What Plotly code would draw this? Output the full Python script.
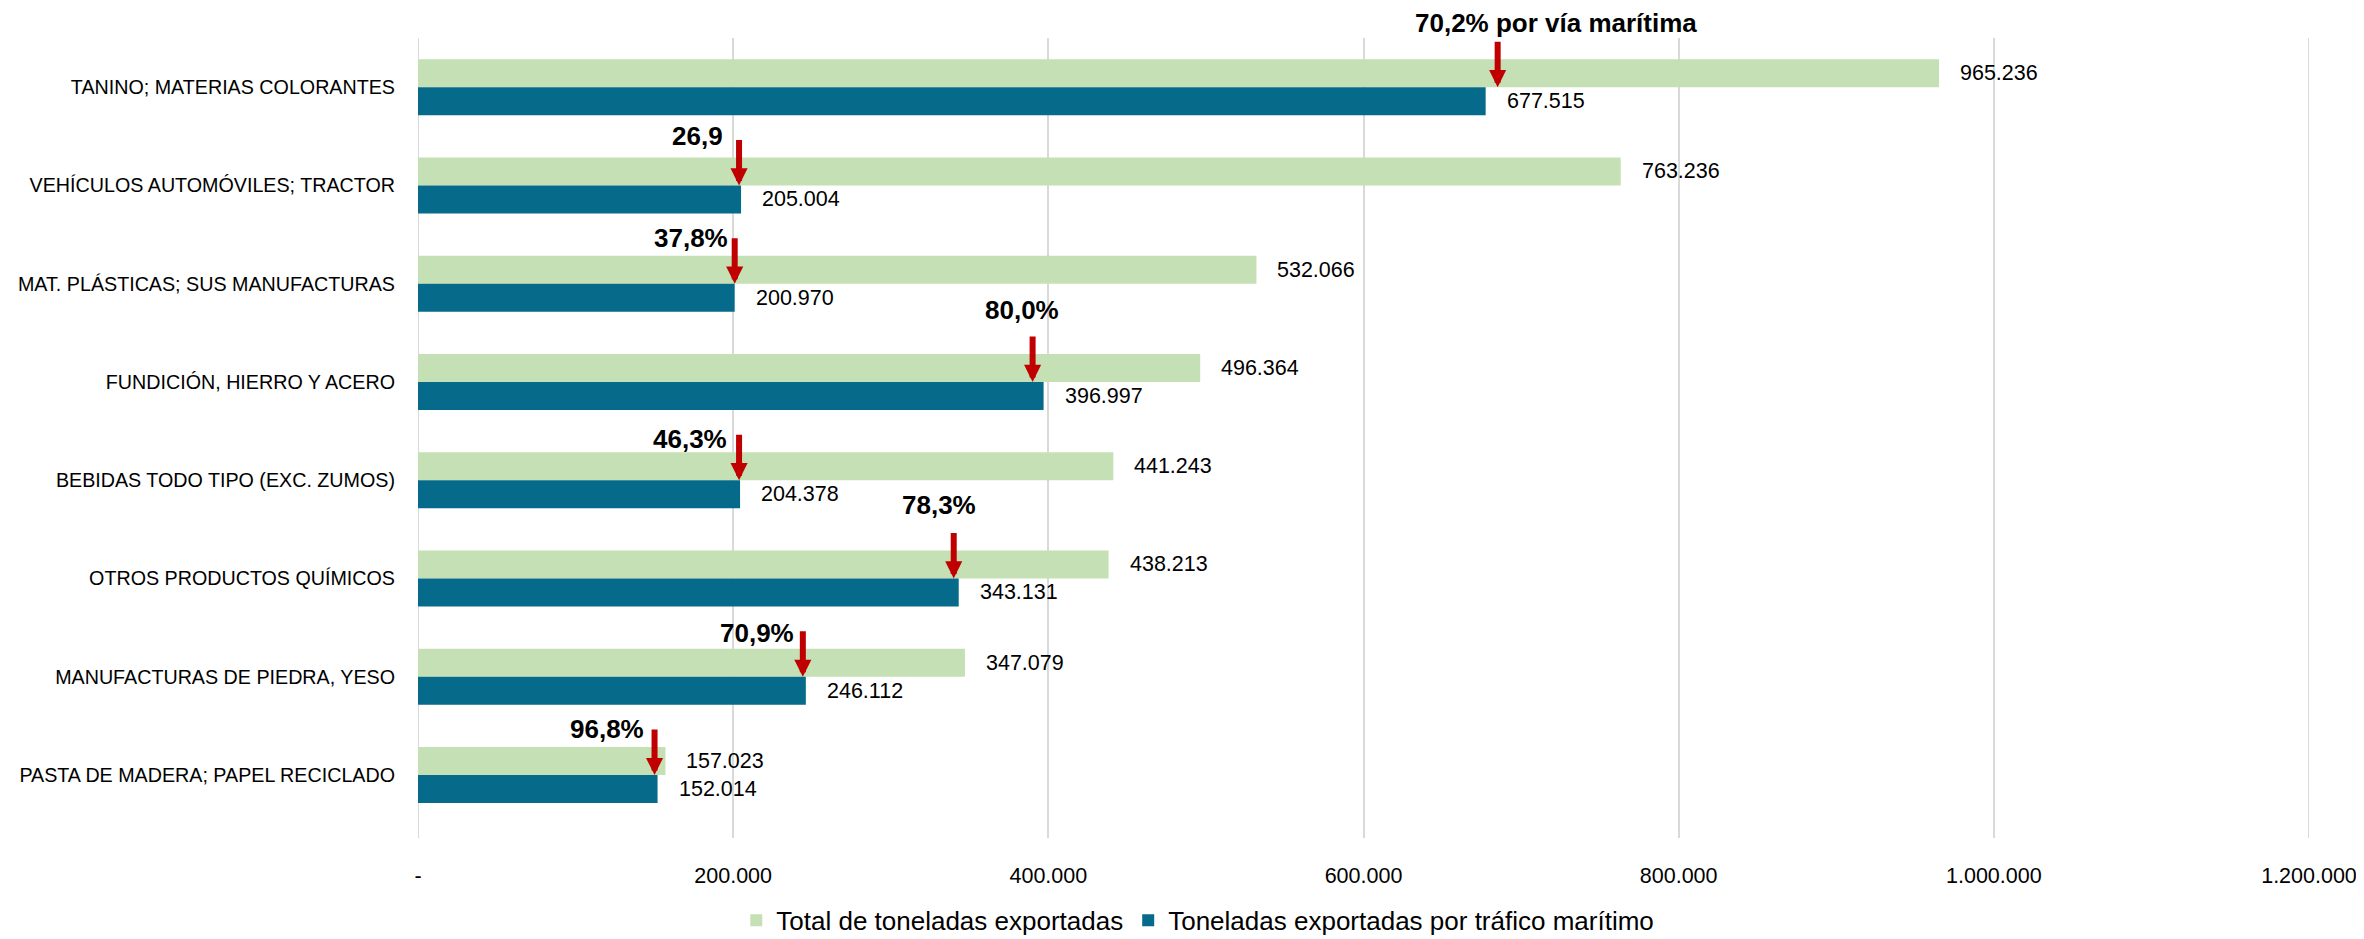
import plotly.graph_objects as go

categories = [
    "TANINO; MATERIAS COLORANTES",
    "VEHÍCULOS AUTOMÓVILES; TRACTOR",
    "MAT. PLÁSTICAS; SUS MANUFACTURAS",
    "FUNDICIÓN, HIERRO Y ACERO",
    "BEBIDAS TODO TIPO (EXC. ZUMOS)",
    "OTROS PRODUCTOS QUÍMICOS",
    "MANUFACTURAS DE PIEDRA, YESO",
    "PASTA DE MADERA; PAPEL RECICLADO",
]
total_tons = [965236, 763236, 532066, 496364, 441243, 438213, 347079, 157023]
maritime_tons = [677515, 205004, 200970, 396997, 204378, 343131, 246112, 152014]
share_labels = ["70,2% por vía marítima", "26,9", "37,8%", "80,0%", "46,3%", "78,3%", "70,9%", "96,8%"]
series_names = ["Total de toneladas exportadas", "Toneladas exportadas por tráfico marítimo"]
tick_vals = [0, 200000, 400000, 600000, 800000, 1000000, 1200000]
tick_text = ["-", "200.000", "400.000", "600.000", "800.000", "1.000.000", "1.200.000"]

# styling / placement (pixels)
arrow_xshift = [12, -2, 0, -11, -1, -5, -3, -3]
text_dx = [58, -42, -43.5, -11, -49.5, -15, -45.5, -48]
text_dy = [64, 49, 46, 72, 41, 73, 44, 46]

FONT = "Liberation Sans, Arial, sans-serif"
GREEN = "#C5E0B4"
BLUE = "#066A8A"
RED = "#C00000"
GRID = "#D9D9D9"


def fmt(v):
    return f"{v:,}".replace(",", ".")


fig = go.Figure()
fig.add_trace(go.Bar(y=categories, x=total_tons, orientation="h", name=series_names[0],
                     marker=dict(color=GREEN, line=dict(width=0))))
fig.add_trace(go.Bar(y=categories, x=maritime_tons, orientation="h", name=series_names[1],
                     marker=dict(color=BLUE, line=dict(width=0))))

ann = []
for i, c in enumerate(categories):
    ann.append(dict(x=total_tons[i], y=c, xref="x", yref="y", text=fmt(total_tons[i]),
                    showarrow=False, xanchor="left", yanchor="middle", xshift=19, yshift=14,
                    font=dict(family=FONT, size=21.5, color="#000000")))
    ann.append(dict(x=maritime_tons[i], y=c, xref="x", yref="y", text=fmt(maritime_tons[i]),
                    showarrow=False, xanchor="left", yanchor="middle", xshift=19, yshift=-14,
                    font=dict(family=FONT, size=21.5, color="#000000")))
    # red arrow
    ann.append(dict(x=maritime_tons[i], y=c, xref="x", yref="y", text="",
                    showarrow=True, arrowhead=2, arrowwidth=6, arrowsize=0.57,
                    arrowcolor=RED, ax=0, ay=-47, xshift=arrow_xshift[i], standoff=0))
    # share text
    ann.append(dict(x=maritime_tons[i], y=c, xref="x", yref="y", text="<b>" + share_labels[i] + "</b>",
                    showarrow=False, xanchor="center", yanchor="middle",
                    xshift=arrow_xshift[i] + text_dx[i], yshift=text_dy[i],
                    font=dict(family=FONT, size=26, color="#000000")))

# edge gridlines (axis start/end)
shapes = [dict(type="line", xref="x", yref="paper", x0=v, x1=v, y0=0, y1=1,
               line=dict(color=GRID, width=2), layer="below")
          for v in (tick_vals[0], tick_vals[-1])]

fig.update_layout(
    width=2356, height=931,
    margin=dict(l=410, r=55, t=30, b=101, pad=0, autoexpand=False),
    paper_bgcolor="white", plot_bgcolor="white",
    barmode="group", bargap=0.43, bargroupgap=0,
    font=dict(family=FONT, color="#000000"),
    annotations=ann,
    shapes=shapes,
    legend=dict(orientation="h", xref="container", yref="container", x=0.505, y=0.02,
                xanchor="center", yanchor="middle", traceorder="normal",
                font=dict(family=FONT, size=26, color="#000000"), itemwidth=30),
    xaxis=dict(range=[0, 1200000], tickvals=tick_vals, ticktext=tick_text, automargin=False,
               showgrid=True, gridcolor=GRID, gridwidth=2, zeroline=False,
               showline=False, ticks="", ticklabelstandoff=22,
               tickfont=dict(family=FONT, size=21.5, color="#000000")),
    yaxis=dict(autorange="reversed", showgrid=False, zeroline=False, showline=False,
               ticks="", ticklabelstandoff=22, automargin=False,
               tickfont=dict(family=FONT, size=19.7, color="#000000")),
)

fig.write_html("out.html")
